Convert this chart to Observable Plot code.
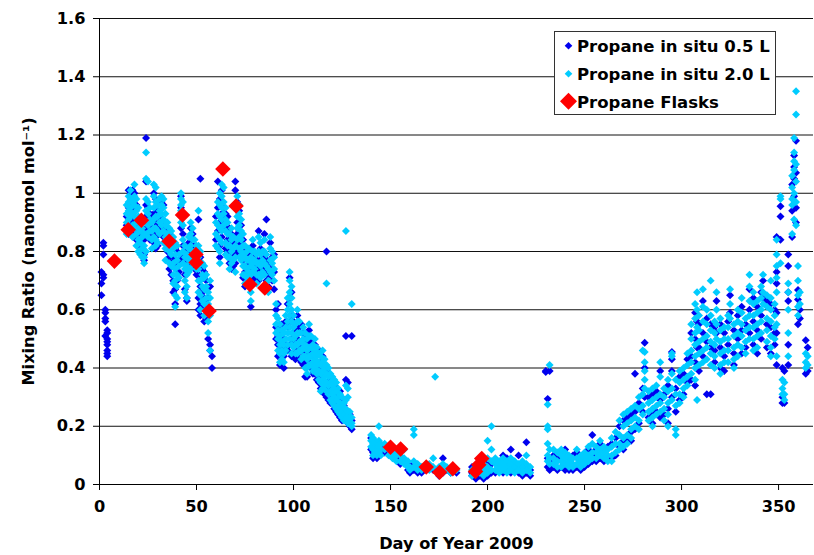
<!DOCTYPE html>
<html><head><meta charset="utf-8">
<script src="https://cdn.jsdelivr.net/npm/d3@7"></script>
<script src="https://cdn.jsdelivr.net/npm/@observablehq/plot@0.6"></script>
<style>
body{margin:0;background:#fff;}
#wrap{position:relative;width:814px;height:555px;}
#legend{position:absolute;left:554px;top:31px;}
#legend text{font-family:"DejaVu Sans";font-weight:bold;font-size:16.5px;fill:#000;}
</style></head>
<body><div id="wrap"></div>
<script>
// Day-of-year ticks and mixing-ratio ticks
const xTicks = [0, 50, 100, 150, 200, 250, 300, 350];
const yTicks = [0, 0.2, 0.4, 0.6, 0.8, 1, 1.2, 1.4, 1.6];
const gridValues = [0.2, 0.4, 0.6, 0.8, 1, 1.2, 1.4, 1.6];
const seriesNames = ["Propane in situ 0.5 L", "Propane in situ 2.0 L", "Propane Flasks"];

// Propane in situ 0.5 L : [day, [values...]]
const insitu05 = [
[1,[0.65,0.69,0.73]],[2,[0.83,0.82,0.79,0.72,0.71]],[3,[0.60,0.59,0.57,0.56,0.51]],[4,[0.53,0.52,0.50,0.49,0.48,0.46,0.45,0.44]],
[14,[0.92,0.89,0.87]],[15,[1.01,0.95,0.90,0.86]],[16,[1.00,0.96,0.93]],[17,[1.01,0.91,0.87]],[18,[1.00,0.94,0.90]],
[19,[0.96,0.88,0.84]],[20,[0.90,0.86,0.82]],[21,[0.88,0.84,0.80]],[22,[0.86,0.82]],[23,[0.84,0.79,0.77]],
[24,[1.19,1.04,0.96,0.92,0.88]],[25,[0.95,0.91]],[26,[0.93,0.89,0.84]],[27,[0.92,0.86]],[28,[1.00,0.93,0.87,0.83]],
[29,[0.98,0.90,0.85,0.81]],[30,[0.94,0.89,0.82]],[31,[0.97,0.92,0.88]],[32,[0.97,0.91]],[33,[0.96,0.89,0.85]],
[34,[0.90,0.83]],[35,[0.88,0.84,0.80]],[36,[0.86,0.78,0.74]],[37,[0.85,0.76,0.72]],[38,[0.83,0.78,0.70,0.66]],
[39,[0.81,0.77,0.67,0.62,0.55]],[40,[0.80,0.75,0.70]],[41,[0.77,0.73]],[42,[0.99,0.95,0.92,0.88]],[43,[0.86,0.82,0.78]],
[44,[0.80,0.76,0.72,0.67]],[45,[0.81,0.73,0.64,0.63]],[46,[0.83,0.79,0.75]],[47,[0.88,0.80,0.76]],[48,[0.86,0.82,0.78]],
[49,[0.82,0.78,0.74]],[50,[0.80,0.76,0.72]],[51,[0.91,0.80,0.72,0.64,0.60]],[52,[1.05,0.78,0.68,0.62,0.58]],
[53,[0.74,0.66,0.61]],[54,[0.73,0.64,0.56]],[55,[0.70,0.62,0.57]],[56,[0.64,0.58,0.50]],[57,[0.68,0.48,0.46]],[58,[0.44,0.40]],
[60,[0.92,0.84]],[61,[1.04,0.95,0.87]],[62,[0.98,0.90,0.82,0.78]],[63,[1.01,0.93,0.85]],[64,[0.95,0.91]],
[65,[0.93,0.88,0.81]],[66,[0.92,0.84,0.80]],[67,[0.88,0.80,0.76]],[68,[0.86,0.78,0.74]],[69,[0.83,0.79,0.75]],
[70,[1.04,1.01,0.80,0.76]],[71,[0.97,0.90,0.86]],[72,[0.94,0.87,0.83,0.79]],[73,[0.89,0.82,0.78]],[74,[0.84,0.77,0.71]],
[75,[0.80,0.73,0.68]],[76,[0.78,0.75,0.70]],[77,[0.79,0.74]],[78,[0.76,0.70,0.61]],[79,[0.82,0.77,0.72]],
[80,[0.78,0.75,0.71]],[81,[0.77,0.73,0.70]],[82,[0.87,0.75,0.70]],[83,[0.81,0.77,0.73]],[84,[0.78,0.74]],
[85,[0.86,0.78,0.74]],[86,[0.91,0.77,0.73,0.70]],[87,[0.72,0.68]],[88,[0.83,0.76,0.72]],[89,[0.78,0.74,0.70]],
[90,[0.79,0.73,0.67]],[91,[0.60,0.54,0.50]],[92,[0.62,0.51,0.48,0.44]],[93,[0.53,0.46,0.41]],[94,[0.55,0.47,0.42]],
[95,[0.50,0.44,0.40]],[96,[0.56,0.48]],[97,[0.62,0.54,0.46]],[98,[0.71,0.64,0.56,0.48]],[99,[0.66,0.58,0.50,0.44]],
[100,[0.56,0.49,0.45]],[101,[0.53,0.47,0.43]],[102,[0.58,0.54,0.50,0.44]],[103,[0.54,0.47,0.43]],[104,[0.55,0.48,0.42]],
[105,[0.52,0.45,0.41]],[106,[0.50,0.42,0.37]],[107,[0.48,0.41,0.37]],[108,[0.53,0.45,0.42]],[109,[0.49,0.45,0.40]],
[110,[0.50,0.44,0.38]],[111,[0.48,0.41,0.38]],[112,[0.45,0.40,0.36]],[113,[0.46,0.40,0.35]],[114,[0.42,0.37,0.33]],
[115,[0.44,0.38,0.34]],[116,[0.41,0.35,0.31]],[117,[0.80,0.39,0.33,0.30]],[118,[0.38,0.33,0.29]],[119,[0.36,0.31,0.28]],
[120,[0.35,0.32,0.29]],[121,[0.34,0.29,0.26]],[122,[0.33,0.28,0.25]],[123,[0.31,0.28,0.24]],[124,[0.32,0.27,0.23]],
[125,[0.29,0.24,0.22]],[126,[0.27,0.23]],[127,[0.51,0.36,0.25,0.22]],[128,[0.35,0.24,0.21]],[129,[0.24,0.21,0.20]],
[130,[0.51,0.22,0.19]],
[140,[0.16,0.12]],[141,[0.15,0.11,0.09]],[142,[0.14,0.10]],[143,[0.13,0.09]],[144,[0.12,0.10]],[145,[0.13,0.11]],
[147,[0.13,0.11]],[149,[0.11]],[151,[0.10]],[153,[0.09]],[155,[0.09,0.07]],[157,[0.08]],[159,[0.07,0.05]],[160,[0.05,0.04]],
[162,[0.07,0.05]],[164,[0.06,0.04]],[166,[0.05,0.04]],[170,[0.06]],[172,[0.05]],[175,[0.05,0.03]],[177,[0.09,0.04]],
[179,[0.05]],[181,[0.04]],[184,[0.04]],[192,[0.06,0.04,0.03]],[194,[0.02]],
[196,[0.05,0.03]],[198,[0.06,0.02]],[200,[0.08,0.05,0.03]],[202,[0.07,0.04]],[204,[0.08,0.04]],[206,[0.07,0.05]],
[208,[0.10,0.06,0.04]],[210,[0.09,0.05]],[212,[0.12,0.06,0.04]],[214,[0.07,0.05]],[216,[0.10,0.06,0.04]],
[218,[0.07,0.03]],[220,[0.145,0.06,0.04]],[222,[0.05,0.03]],
[230,[0.39,0.386]],[231,[0.294,0.09,0.06]],[232,[0.39,0.08,0.05]],
[234,[0.10,0.06]],[236,[0.09,0.05]],[238,[0.11,0.06]],[240,[0.12,0.06,0.05]],[242,[0.09,0.05]],[244,[0.10,0.05]],
[246,[0.11,0.06]],[248,[0.09,0.05]],[250,[0.10,0.06]],[252,[0.12,0.07]],[254,[0.17,0.10,0.08]],[256,[0.12,0.08]],
[258,[0.14,0.09]],[260,[0.12,0.08]],[262,[0.13,0.09]],[264,[0.14,0.09]],[266,[0.16,0.10]],[268,[0.20,0.13]],
[270,[0.22,0.15,0.12]],[272,[0.23,0.16]],[274,[0.24,0.18,0.15]],[276,[0.38,0.25,0.19]],[278,[0.28,0.21]],
[280,[0.33,0.25]],[281,[0.487,0.40,0.30]],[283,[0.30,0.23]],[285,[0.31,0.24,0.21]],[287,[0.32,0.25]],
[289,[0.39,0.29,0.23]],[291,[0.31,0.24]],[293,[0.34,0.26,0.21]],[295,[0.43,0.455,0.39,0.30]],[297,[0.33,0.25]],
[299,[0.37,0.29]],[301,[0.38,0.31]],[303,[0.43,0.35]],[305,[0.52,0.44,0.36]],[307,[0.59,0.50,0.42,0.34]],
[308,[0.56,0.47]],[309,[0.55,0.47,0.39]],[311,[0.63,0.52,0.44]],[313,[0.57,0.49,0.31]],[315,[0.55,0.47,0.31]],
[317,[0.54,0.46,0.42]],[318,[0.63,0.52]],[320,[0.55,0.47,0.40]],[322,[0.52,0.44,0.39]],[324,[0.56,0.48]],
[325,[0.65,0.59]],[327,[0.53,0.45,0.41]],[329,[0.58,0.50]],[331,[0.61,0.53,0.45]],[333,[0.55,0.47]],
[335,[0.67,0.60,0.52]],[337,[0.64,0.56,0.48]],[339,[0.61,0.53,0.45]],[341,[0.66,0.58,0.50]],[342,[0.70,0.64]],
[344,[0.63,0.55,0.47]],[346,[0.62,0.54,0.45]],[348,[0.60,0.52,0.48]],[349,[0.85,0.73,0.69,0.59,0.52,0.41]],
[351,[0.955,0.92,0.84]],[352,[0.40,0.28,0.30]],[353,[0.39,0.28]],[355,[0.79,0.75,0.66,0.63,0.48,0.41]],
[357,[1.03,0.94,0.85]],[358,[1.13,1.09,1.05,0.99]],[359,[1.18,1.07,0.95,0.90]],[360,[0.668,0.635,0.55]],
[361,[0.60,0.57]],[364,[0.495,0.38]],[365,[0.47,0.39]]
];

// Propane in situ 2.0 L : [day, [values...]]
const insitu20 = [
[14,[0.96,0.93,0.90,0.88,0.86]],[15,[0.99,0.97,0.94,0.91,0.88]],[16,[1.01,0.98,0.95,0.92]],[17,[0.97,0.93,0.89,0.85]],
[18,[1.03,0.99,0.96,0.92,0.88]],[19,[0.98,0.94,0.90,0.86,0.82]],[20,[0.95,0.92,0.88,0.84,0.80]],[21,[0.91,0.87,0.83,0.79]],
[22,[0.88,0.85,0.81,0.78]],[23,[0.86,0.82,0.78,0.76]],[24,[1.14,1.05,0.98,0.94,0.90,0.86,0.80]],[25,[1.04,0.97,0.93,0.89,0.85]],
[26,[0.95,0.91,0.87]],[27,[0.90,0.87,0.84,0.81]],[28,[1.03,0.99,0.95,0.91,0.88,0.85]],[29,[1.02,0.97,0.92,0.88,0.84,0.82]],
[30,[0.96,0.92,0.87,0.83]],[31,[0.98,0.94,0.90,0.86]],[32,[0.99,0.96,0.93,0.89]],[33,[0.98,0.95,0.91,0.87,0.83]],
[34,[0.93,0.89,0.85,0.81,0.77]],[35,[0.90,0.86,0.82]],[36,[0.88,0.84,0.80,0.76]],[37,[0.87,0.83,0.79,0.75]],
[38,[0.85,0.81,0.76,0.72,0.69]],[39,[0.83,0.79,0.74,0.70,0.65,0.61]],[40,[0.82,0.77,0.72,0.68,0.64]],[41,[0.79,0.75,0.71]],
[42,[1.00,0.98,0.96,0.94,0.90]],[43,[0.97,0.93,0.89,0.84,0.80,0.76]],[44,[0.82,0.78,0.74,0.70,0.66]],[45,[0.79,0.75,0.72,0.68,0.64]],
[46,[0.85,0.81,0.77,0.73]],[47,[0.90,0.86,0.82,0.78,0.74]],[48,[0.88,0.84,0.80,0.76]],[49,[0.84,0.80,0.76]],[50,[0.82,0.78,0.74]],
[51,[0.94,0.82,0.78,0.74,0.70,0.66]],[52,[0.80,0.76,0.70,0.65,0.60]],[53,[0.76,0.72,0.68,0.63]],[54,[0.75,0.71,0.67,0.62,0.58]],
[55,[0.72,0.68,0.64,0.60]],[56,[0.66,0.62,0.56,0.52]],[57,[0.70,0.64,0.58,0.46]],
[60,[0.90,0.86,0.82]],[61,[0.97,0.93,0.89,0.85,0.81]],[62,[1.00,0.96,0.92,0.88,0.84,0.80,0.76]],[63,[1.03,0.99,0.95,0.91,0.87,0.83]],
[64,[1.02,0.97,0.93,0.89]],[65,[0.95,0.91,0.87,0.83,0.79]],[66,[0.90,0.86,0.82,0.78]],[67,[0.86,0.82,0.78,0.74]],
[68,[0.88,0.84,0.80,0.76]],[69,[0.85,0.81,0.77]],[70,[0.82,0.78,0.73]],[71,[0.99,0.95,0.92,0.88,0.84]],
[72,[0.96,0.93,0.89,0.85,0.81,0.78]],[73,[0.91,0.87,0.84,0.80,0.77]],[74,[0.86,0.82,0.79,0.75,0.72]],[75,[0.82,0.78,0.75,0.72,0.69]],
[76,[0.80,0.77,0.74,0.71]],[77,[0.81,0.77,0.73]],[78,[0.78,0.75,0.72,0.66,0.63]],[79,[0.84,0.80,0.76,0.73]],[80,[0.80,0.77,0.74]],
[81,[0.79,0.76,0.72,0.69]],[82,[0.85,0.80,0.76,0.72]],[83,[0.83,0.79,0.75,0.71]],[84,[0.80,0.77,0.73]],[85,[0.84,0.80,0.76,0.72]],
[86,[0.79,0.75]],[87,[0.74,0.70,0.66]],[88,[0.85,0.81,0.77,0.73]],[89,[0.80,0.76,0.72]],[90,[0.78,0.74,0.70]],
[91,[0.62,0.58,0.55,0.52]],[92,[0.57,0.53,0.50,0.46]],[93,[0.55,0.51,0.48,0.45,0.42]],[94,[0.53,0.49,0.46,0.43]],
[95,[0.52,0.48,0.45,0.42]],[96,[0.58,0.54,0.50,0.46]],[97,[0.64,0.60,0.56,0.52,0.48]],[98,[0.73,0.70,0.66,0.62,0.58,0.54,0.50]],
[99,[0.68,0.64,0.60,0.56,0.52,0.48,0.45]],[100,[0.58,0.54,0.50,0.47]],[101,[0.55,0.51,0.48,0.45]],[102,[0.60,0.56,0.52,0.48,0.45]],
[103,[0.56,0.52,0.49,0.46]],[104,[0.52,0.49,0.46,0.43]],[105,[0.54,0.50,0.47,0.44]],[106,[0.52,0.48,0.44,0.40]],
[107,[0.50,0.46,0.43,0.40,0.38]],[108,[0.55,0.51,0.47,0.44,0.41]],[109,[0.51,0.47,0.44,0.41]],[110,[0.48,0.45,0.42,0.39]],
[111,[0.50,0.46,0.43,0.40]],[112,[0.47,0.44,0.41,0.38]],[113,[0.45,0.42,0.39,0.36]],[114,[0.44,0.41,0.38,0.35,0.32]],
[115,[0.46,0.42,0.39,0.36,0.33]],[116,[0.43,0.40,0.37,0.34]],[117,[0.69,0.41,0.38,0.35,0.32]],[118,[0.40,0.37,0.34,0.31]],
[119,[0.38,0.35,0.32,0.29]],[120,[0.37,0.34,0.31,0.28]],[121,[0.36,0.33,0.30,0.27]],[122,[0.35,0.32,0.29,0.26]],
[123,[0.33,0.30,0.27,0.25]],[124,[0.31,0.28,0.26,0.24]],[125,[0.30,0.27,0.25,0.23]],[126,[0.28,0.26,0.24,0.22]],
[127,[0.87,0.34,0.29,0.26,0.23]],[128,[0.33,0.30,0.25,0.23,0.21]],[129,[0.25,0.23,0.21]],[130,[0.62,0.23,0.21,0.20]],
[140,[0.17,0.15,0.13]],[141,[0.16,0.14,0.12,0.10]],[142,[0.15,0.13,0.11]],[143,[0.14,0.12,0.10]],[144,[0.20,0.15,0.13,0.11]],
[145,[0.14,0.12,0.10]],[147,[0.14,0.12]],[149,[0.12,0.10]],[151,[0.11,0.09]],[153,[0.12,0.10,0.08]],[155,[0.10,0.08]],
[157,[0.12,0.09,0.07]],[159,[0.08,0.06]],[160,[0.06,0.05]],[162,[0.19,0.17,0.08,0.06]],[164,[0.07,0.05]],[166,[0.06,0.05]],
[170,[0.07,0.05]],[172,[0.09,0.06]],[173,[0.37]],[175,[0.06,0.04]],[177,[0.07,0.05]],[179,[0.06,0.05]],[181,[0.05,0.04]],
[184,[0.05]],[192,[0.05,0.03]],[194,[0.04]],
[196,[0.06,0.04]],[198,[0.07,0.05,0.03]],[200,[0.15,0.09,0.06,0.04]],[202,[0.20,0.12,0.08,0.05]],[204,[0.09,0.07,0.05]],
[206,[0.08,0.06,0.04]],[208,[0.09,0.07,0.05]],[210,[0.08,0.06,0.04]],[212,[0.09,0.07,0.05]],[214,[0.08,0.06,0.04]],
[216,[0.07,0.05]],[218,[0.08,0.06,0.04]],[220,[0.10,0.07,0.05]],[222,[0.06,0.04]],
[231,[0.275,0.20,0.19,0.14,0.10,0.08]],[232,[0.41,0.12,0.09,0.07]],
[234,[0.12,0.09,0.07]],[236,[0.11,0.08,0.06]],[238,[0.12,0.10,0.08,0.06]],[240,[0.11,0.09,0.07]],[242,[0.10,0.08,0.06]],
[244,[0.09,0.07,0.06]],[246,[0.12,0.09,0.07]],[248,[0.10,0.08,0.06]],[250,[0.11,0.09,0.07]],[252,[0.13,0.10,0.08]],
[254,[0.14,0.11,0.09]],[256,[0.13,0.11,0.09]],[258,[0.15,0.12,0.10]],[260,[0.13,0.11,0.09]],[262,[0.12,0.10,0.08]],
[264,[0.16,0.13,0.10,0.08]],[266,[0.18,0.14,0.11]],[268,[0.22,0.17,0.14,0.12]],[270,[0.24,0.20,0.16,0.13]],
[272,[0.25,0.21,0.17,0.14]],[274,[0.26,0.22,0.19,0.16]],[276,[0.27,0.23,0.20]],[278,[0.30,0.26,0.22,0.19]],
[280,[0.46,0.31,0.27,0.24]],[281,[0.455,0.42,0.39,0.36,0.33]],[283,[0.32,0.28,0.25,0.22]],[285,[0.33,0.29,0.26,0.23,0.20]],
[287,[0.34,0.30,0.27,0.24]],[289,[0.42,0.37,0.31,0.28,0.25]],[291,[0.33,0.30,0.26,0.22]],[293,[0.36,0.32,0.28,0.24,0.20]],
[295,[0.45,0.44,0.38,0.33,0.29]],[297,[0.36,0.31,0.27,0.19,0.17]],[299,[0.39,0.35,0.31,0.28]],[301,[0.40,0.36,0.33,0.30]],
[303,[0.45,0.41,0.37,0.34]],[305,[0.55,0.50,0.46,0.42,0.38]],[307,[0.62,0.57,0.52,0.48,0.44,0.40,0.36]],[308,[0.66,0.60,0.54,0.29]],
[309,[0.58,0.53,0.49,0.45,0.41]],[311,[0.67,0.61,0.56,0.50,0.46,0.42]],[313,[0.60,0.55,0.51,0.47,0.43]],
[315,[0.70,0.58,0.53,0.49,0.45,0.41]],[317,[0.56,0.52,0.48,0.44,0.40]],[318,[0.66,0.60,0.55,0.50]],
[320,[0.57,0.53,0.49,0.45,0.41,0.38]],[322,[0.54,0.50,0.46,0.42]],[324,[0.58,0.54,0.50,0.46,0.42]],[325,[0.67,0.62,0.57]],
[327,[0.55,0.51,0.47,0.43,0.40]],[329,[0.60,0.56,0.52,0.48,0.44]],[331,[0.64,0.59,0.55,0.51,0.47]],[333,[0.57,0.53,0.49,0.45]],
[335,[0.72,0.68,0.63,0.58,0.54,0.50]],[337,[0.66,0.62,0.58,0.54,0.50,0.46]],[339,[0.63,0.59,0.55,0.51,0.47]],
[341,[0.68,0.64,0.60,0.56,0.52]],[342,[0.72,0.66,0.62]],[344,[0.65,0.61,0.57,0.53,0.49]],[346,[0.70,0.64,0.60,0.56,0.51,0.47,0.44]],
[348,[0.62,0.58,0.54,0.50]],[349,[0.84,0.79,0.75,0.71,0.66,0.55,0.44]],[351,[0.99,0.98,0.76]],[352,[0.36,0.33,0.31]],
[353,[0.35,0.31,0.29]],[355,[0.69,0.66,0.60,0.52,0.44]],[357,[1.06,1.02,0.98,0.96,0.86]],[358,[1.19,1.14,1.11,1.08,1.00,0.91]],
[359,[1.35,1.27,1.10,1.04,0.97,0.89]],[360,[0.75,0.70,0.65,0.61,0.58]],[361,[0.66,0.62]],[364,[0.45,0.42,0.40]],[365,[0.44,0.41]]
];

// Propane flasks
const flaskDays   = [7.7, 14.8, 21.6, 35.9, 42.8, 49.7, 49.8, 56.5, 63.6, 70.4, 77.5, 85.2, 150, 155.2, 168.4, 175.3, 182.1, 193.8, 195.5, 197];
const flaskValues = [0.767, 0.875, 0.907, 0.835, 0.925, 0.79, 0.762, 0.596, 1.083, 0.956, 0.687, 0.675, 0.128, 0.122, 0.06, 0.042, 0.054, 0.045, 0.068, 0.089];

const colors = ["#0000ee", "#00ccff", "#ff0000"];

const flat = arr => arr.flatMap(([day, vs]) => vs.map(value => ({day, value})));
const pts05 = flat(insitu05);
const pts20 = flat(insitu20);
const flasks = flaskDays.map((day, i) => ({day, value: flaskValues[i]}));
const diamond = d3.symbolDiamond2 || "diamond";

const chart = Plot.plot({
  width: 814, height: 555,
  marginLeft: 99, marginRight: 1, marginTop: 18, marginBottom: 71,
  x: {domain: [0, 368]},
  y: {domain: [0, 1.6]},
  style: {fontFamily: "DejaVu Sans", fontWeight: "bold", fontSize: "16.2px", color: "#000", background: "#fff", overflow: "visible"},
  marks: [
    Plot.ruleY(gridValues, {stroke: "#111", strokeWidth: 1}),
    Plot.axisY(yTicks, {tickSize: 6, tickPadding: 8, tickFormat: d3.format("~g"),
      label: "Mixing Ratio (nanomol mol⁻¹)", labelAnchor: "center", labelArrow: "none", labelOffset: 77}),
    Plot.axisX(xTicks, {tickSize: 6, tickPadding: 10, tickFormat: d3.format("d"),
      label: "Day of Year 2009", labelAnchor: "center", labelArrow: "none", labelOffset: 64}),
    Plot.dot(pts05, {x: "day", y: "value", symbol: diamond, r: 3.6, fill: colors[0], stroke: "none"}),
    Plot.dot(pts20, {x: "day", y: "value", symbol: diamond, r: 3.6, fill: colors[1], stroke: "none"}),
    Plot.dot(flasks, {x: "day", y: "value", symbol: diamond, r: 7, fill: colors[2], stroke: "none"}),
    Plot.ruleX([0], {stroke: "#000"}),
    Plot.ruleY([0], {stroke: "#000"})
  ]
});
const wrap = document.getElementById("wrap");
wrap.appendChild(chart);

// Legend box
const leg = d3.select(wrap).append("svg").attr("id", "legend").attr("width", 223).attr("height", 85);
leg.append("rect").attr("x", 0.5).attr("y", 0.5).attr("width", 221).attr("height", 83)
  .attr("fill", "#fff").attr("stroke", "#333").attr("stroke-width", 1);
const rowsY = [14.8, 42.7, 70.3];
const halfs = [3.8, 3.8, 8.5];
seriesNames.forEach((name, i) => {
  const cy = rowsY[i], h = halfs[i];
  leg.append("path").attr("d", `M14.5,${cy - h}L${14.5 + h},${cy}L14.5,${cy + h}L${14.5 - h},${cy}Z`).attr("fill", colors[i]);
  leg.append("text").attr("x", 23).attr("y", cy + 6.2).text(name);
});
</script>
</body></html>
